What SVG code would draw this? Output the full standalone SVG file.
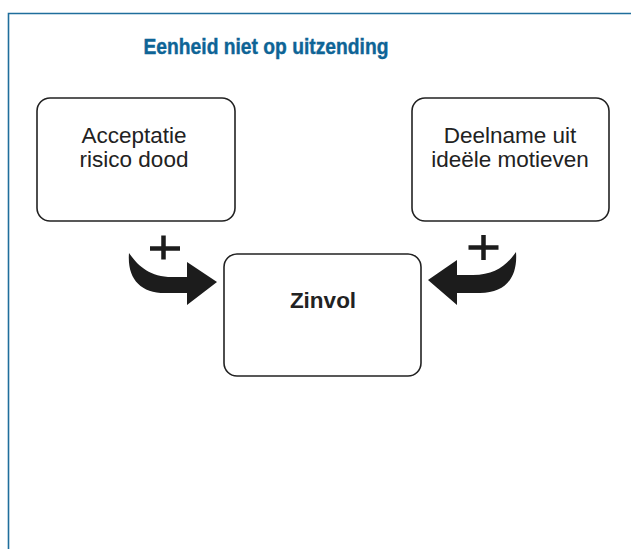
<svg xmlns="http://www.w3.org/2000/svg" width="631" height="549" viewBox="0 0 631 549">
<style>
.box{fill:#fff;stroke:#222;stroke-width:1.6}
.lbl{font-family:"Liberation Sans",Arial,sans-serif;font-size:22.5px;fill:#222;text-anchor:middle}
.arrow{fill:#1c1c1c;stroke:none}
.plus{stroke:#1c1c1c;stroke-width:4.5;fill:none}
</style>
<rect width="631" height="549" fill="#fff"/>
<path d="M8.5,549 V13.5 H631" fill="none" stroke="#1f6e9c" stroke-width="1.6"/>
<text x="266" y="54" font-family="'Liberation Sans',Arial,sans-serif" font-weight="bold" font-size="22" fill="#0e6496" stroke="#0e6496" stroke-width="0.4" text-anchor="middle" textLength="245" lengthAdjust="spacingAndGlyphs">Eenheid niet op uitzending</text>
<g id="node-acceptatie">
<rect class="box" x="37" y="98" width="198" height="123" rx="13"/>
<text class="lbl" x="134" y="143">Acceptatie</text>
<text class="lbl" x="134" y="167">risico dood</text>
</g>
<g id="node-deelname">
<rect class="box" x="412" y="98" width="197" height="123" rx="13"/>
<text class="lbl" x="510" y="143">Deelname uit</text>
<text class="lbl" x="510" y="167">ideële motieven</text>
</g>
<g id="node-zinvol">
<rect class="box" x="224" y="254" width="197" height="122" rx="13"/>
<text class="lbl" x="323" y="308" font-weight="bold" font-size="23">Zinvol</text>
</g>
<g id="connectors">
<g id="arrow-left">
<path class="arrow" d="M129,253 C138,266 150,277 172,277 L187,277 L187,262 L217,282 L187,305 L187,293 L165,293 C140,293 127,278 129,253 Z"/>
<path class="plus" d="M163.5,235.5 V259.5 M150,248.5 H180"/>
</g>
<g id="arrow-right">
<path class="arrow" d="M516,252 C507,265 495,275 473,275 L457,275 L457,260 L428,280 L457,305 L457,293 L480,293 C505,293 518,278 516,252 Z"/>
<path class="plus" d="M483.5,235 V260 M468.5,247.5 H498.5"/>
</g>
</g>
</svg>
